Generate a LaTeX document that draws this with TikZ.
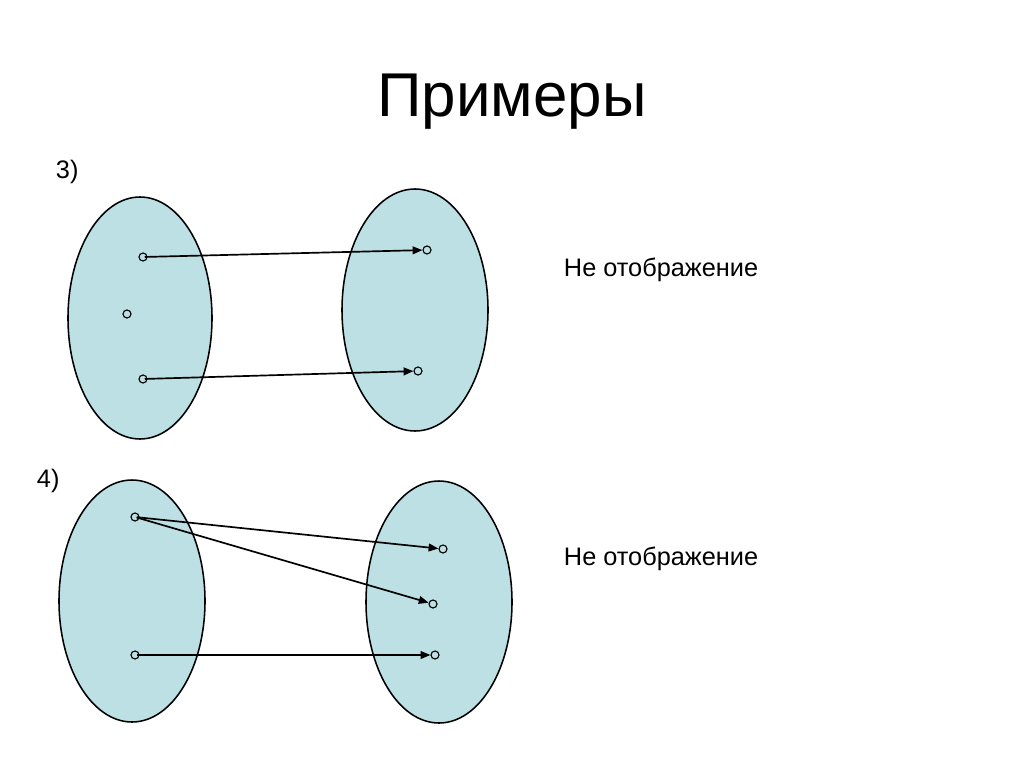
\documentclass[tikz,border=0pt]{standalone}
\usepackage{fontspec}
\setmainfont{Liberation Sans}
\usetikzlibrary{arrows.meta, positioning}
\definecolor{SetBlue}{RGB}{188,224,227}

\begin{document}
\begin{tikzpicture}[x=0.025cm, y=-0.025cm,
    set/.style={draw, line width=1.1pt, fill=SetBlue},
    pt/.style={draw, line width=0.8pt, circle, minimum size=0.2cm, inner sep=0pt},
    map/.style={-{Triangle[length=7pt, width=5.5pt]}, line width=1.2pt, shorten <=-2pt},
    label/.style={font=\fontsize{18}{21}\selectfont, anchor=west}]
    \useasboundingbox (0,0) rectangle (1024,767);

    % Title
    \node[font=\fontsize{44}{52}\selectfont] (title) at (512,102) {Примеры};

    % Example 3
    \node[label] (num3) at (51,172) {3)};
    \draw[set] (140,318) ellipse [x radius=72, y radius=121];
    \draw[set] (415,310) ellipse [x radius=73, y radius=121];
    \node[pt] (a1) at (143,257) {};
    \node[pt] (a2) at (127,314) {};
    \node[pt] (a3) at (143,379) {};
    \node[pt] (b1) at (427,250) {};
    \node[pt] (b2) at (418,371) {};
    \draw[map] (a1) -- (b1);
    \draw[map] (a3) -- (b2);
    \node[label] (note3) at (559,270) {Не отображение};

    % Example 4
    \node[label] (num4) at (32,481) {4)};
    \draw[set] (132,601) ellipse [x radius=73, y radius=121];
    \draw[set] (439,602) ellipse [x radius=73, y radius=121];
    \node[pt] (c1) at (135,517) {};
    \node[pt] (c2) at (135,655) {};
    \node[pt] (d1) at (443,549) {};
    \node[pt] (d2) at (433,604) {};
    \node[pt] (d3) at (435,655) {};
    \draw[map] (c1) -- (d1);
    \draw[map] (c1) -- (d2);
    \draw[map] (c2) -- (d3);
    \node[label] (note4) at (559,559) {Не отображение};
\end{tikzpicture}
\end{document}
